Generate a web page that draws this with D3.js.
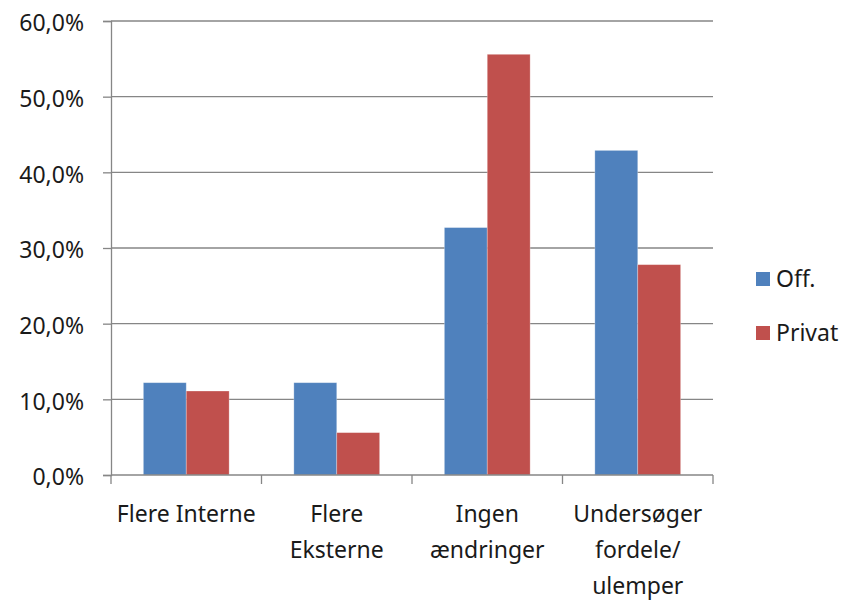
<!DOCTYPE html>
<html>
<head>
<meta charset="utf-8">
<script src="https://cdn.jsdelivr.net/npm/d3@7"></script>
<style>
  body { margin: 0; background: #fff; }
  text { font-family: "Noto Sans", "Open Sans", sans-serif; fill: #1a1a1a; }
</style>
</head>
<body>
<div id="chart"></div>
<script>
const width = 855;
const height = 601;

// data
const categories = [
    ["Flere Interne"],
    ["Flere", "Eksterne"],
    ["Ingen", "ændringer"],
    ["Undersøger", "fordele/", "ulemper"]
];
const seriesNames = ["Off.", "Privat"];
const seriesColors = ["#4F81BD", "#C0504D"];
const offValues = [12.2, 12.2, 32.7, 42.9];
const privatValues = [11.1, 5.6, 55.6, 27.8];
const yTicks = [0, 10, 20, 30, 40, 50, 60];

const margin = { top: 21, left: 111, right: 142, bottom: 126 };
const plotW = width - margin.left - margin.right;
const plotH = height - margin.top - margin.bottom;

const svg = d3.select("#chart")
    .append("svg")
    .attr("width", width)
    .attr("height", height);

const g = svg.append("g")
    .attr("transform", `translate(${margin.left},${margin.top})`);

const x0 = d3.scaleBand()
    .domain(d3.range(categories.length))
    .range([0, plotW])
    .paddingInner(0.43)
    .paddingOuter(0.215);

const x1 = d3.scaleBand()
    .domain(d3.range(seriesNames.length))
    .range([0, x0.bandwidth()]);

const y = d3.scaleLinear()
    .domain([0, 60])
    .range([plotH, 0]);

const gridColor = "#868686";

// gridlines
g.selectAll("line.grid")
    .data(yTicks.slice(1))
    .enter()
    .append("line")
    .attr("x1", 0)
    .attr("x2", plotW)
    .attr("y1", d => y(d))
    .attr("y2", d => y(d))
    .attr("stroke", gridColor)
    .attr("stroke-width", 1.3);

// bars
const rows = d3.range(categories.length).map(i => [offValues[i], privatValues[i]]);
const groups = g.selectAll("g.cat")
    .data(rows)
    .enter()
    .append("g")
    .attr("transform", (d, i) => `translate(${x0(i)},0)`);

groups.selectAll("rect")
    .data(d => d)
    .enter()
    .append("rect")
    .attr("x", (d, j) => x1(j))
    .attr("y", d => y(d))
    .attr("width", x1.bandwidth())
    .attr("height", d => plotH - y(d))
    .attr("fill", (d, j) => seriesColors[j])
    .attr("stroke", "#ffffff")
    .attr("stroke-opacity", 0.35)
    .attr("stroke-width", 0.8);

// y axis
const yAxis = g.append("g")
    .call(d3.axisLeft(y).tickValues(yTicks).tickSize(8).tickPadding(19)
        .tickFormat(d => d.toFixed(1).replace(".", ",") + "%"));
yAxis.select(".domain").attr("stroke", gridColor).attr("stroke-width", 1.3);
yAxis.selectAll(".tick line").attr("stroke", gridColor).attr("stroke-width", 1.3);
yAxis.selectAll(".tick text")
    .style("font-size", "23px")
    .attr("dy", "0.42em")
    .attr("fill", "#1a1a1a");

// x axis baseline and ticks at category boundaries
const step = plotW / categories.length;
g.append("line")
    .attr("x1", 0).attr("x2", plotW)
    .attr("y1", plotH).attr("y2", plotH)
    .attr("stroke", gridColor).attr("stroke-width", 1.3);
g.selectAll("line.xtick")
    .data(d3.range(categories.length + 1))
    .enter()
    .append("line")
    .attr("x1", d => d * step).attr("x2", d => d * step)
    .attr("y1", plotH).attr("y2", plotH + 9)
    .attr("stroke", gridColor).attr("stroke-width", 1.3);

// category labels
g.selectAll("text.cat")
    .data(categories)
    .enter()
    .append("text")
    .attr("text-anchor", "middle")
    .style("font-size", "23px")
    .attr("transform", (d, i) => `translate(${(i + 0.5) * step},${plotH + 47})`)
    .selectAll("tspan")
    .data(d => d)
    .enter()
    .append("tspan")
    .attr("x", 0)
    .attr("y", (d, k) => k * 36)
    .text(d => d);

// legend
const legend = svg.append("g")
    .attr("transform", "translate(756,272)");
const items = legend.selectAll("g")
    .data(seriesNames)
    .enter()
    .append("g")
    .attr("transform", (d, i) => `translate(0,${i * 54})`);
items.append("rect")
    .attr("width", 14).attr("height", 14)
    .attr("fill", (d, i) => seriesColors[i]);
items.append("text")
    .attr("x", 20)
    .attr("y", 15)
    .style("font-size", "23px")
    .text(d => d);
</script>
</body>
</html>
